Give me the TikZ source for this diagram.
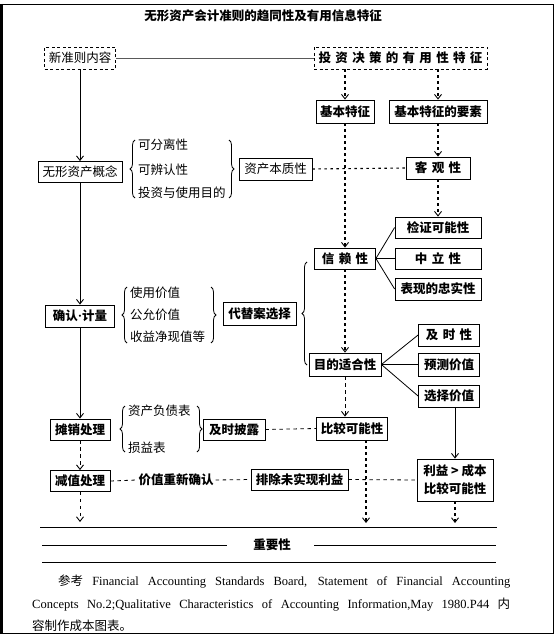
\documentclass[tikz,border=0pt]{standalone}
\usepackage{fontspec}
\setmainfont{Liberation Serif}
\newfontfamily\cjk{Noto Sans CJK SC}
\usetikzlibrary{arrows.meta,decorations.pathreplacing,calc}
\newcommand\gp{\hspace{4.3pt}}
\begin{document}
\begin{tikzpicture}[x=1pt,y=-1pt,
  bx/.style={draw,line width=0.8pt,inner sep=0pt,minimum height=22pt,font=\cjk\fontsize{12.5}{14}\selectfont},
  bxb/.style={bx,font=\cjk\bfseries\fontsize{12.5}{14}\selectfont},
  dbx/.style={bx,dash pattern=on 3pt off 2.5pt},
  txt/.style={inner sep=0pt,anchor=west,font=\cjk\fontsize{12.5}{14}\selectfont},
  arr/.style={-{Straight Barb[length=4.5pt,width=7pt,line width=0.9pt]}},
  dotl/.style={line width=1.1pt,dash pattern=on 2.5pt off 3.5pt},
  dshl/.style={line width=0.8pt,dash pattern=on 3.5pt off 3.5pt},
  sol/.style={line width=0.8pt},
  brc/.style={decorate,decoration={brace,amplitude=5pt},line width=0.8pt},
]
\useasboundingbox (0,0) rectangle (556,636);
% frame
\draw[line width=0.8pt] (1.5,4) rectangle (553,633.5);
\draw[line width=3pt] (1.5,4) -- (1.5,633.5);
% title
\node[font=\cjk\bfseries\fontsize{12.5}{14}\selectfont] (title) at (263,16) {无形资产会计准则的趋同性及有用信息特征};
% top boxes
\node[dbx,minimum width=71pt] (new) at (80,58) {新准则内容};
\node[dbx,font=\cjk\bfseries\fontsize{12.5}{14}\selectfont,minimum width=173pt] (inv) at (400.5,58) {投\gp 资\gp 决\gp 策\gp 的\gp 有\gp 用\gp 性\gp 特\gp 征};
\node[bxb,minimum width=58pt,minimum height=23pt] (jb) at (345,111.5) {基本特征};
\node[bxb,minimum width=98pt,minimum height=23pt] (jby) at (438,111.5) {基本特征的要素};
% row 1
\node[bx,minimum width=84pt,minimum height=21pt] (wx) at (80,172) {无形资产概念};
\node[txt] (i1) at (138,145) {可分离性};
\node[txt] (i2) at (138,170) {可辨认性};
\node[txt] (i3) at (138,193) {投资与使用目的};
\draw[brc] (135,198) -- (135,140);
\draw[brc] (229,140) -- (229,198);
\node[bx,minimum width=73pt] (zc) at (275.5,169) {资产本质性};
\node[bxb,minimum width=64pt] (kgx) at (438,168) {客\gp 观\gp 性};
% reliability
\node[bxb,minimum width=86pt,minimum height=21pt] (jz) at (438,227.5) {检证可能性};
\node[bxb,minimum width=61pt,minimum height=21pt] (xl) at (345,258.5) {信\gp 赖\gp 性};
\node[bxb,minimum width=86pt,minimum height=21pt] (zl) at (438,258.5) {中\gp 立\gp 性};
\node[bxb,minimum width=86pt] (bxz) at (438,289) {表现的忠实性};
% row 2
\node[bxb,minimum width=69pt] (qr) at (80,316) {确认{\rmfamily\bfseries\fontsize{13}{14}\selectfont ·}计量};
\node[txt] (u1) at (130,293) {使用价值};
\node[txt] (u2) at (130,315) {公允价值};
\node[txt] (u3) at (130,337) {收益净现值等};
\draw[brc] (127,343) -- (127,287);
\draw[brc] (211,287) -- (211,343);
\node[bxb,minimum width=73pt,minimum height=23pt] (dt) at (259.5,313.5) {代替案选择};
\draw[brc] (307,365) -- (307,262);
% relevance
\node[bxb,minimum width=72pt,minimum height=23pt] (md) at (345,364.5) {目的适合性};
\node[bxb,minimum width=61pt] (js) at (449,335) {及\gp 时\gp 性};
\node[bxb,minimum width=61pt,minimum height=23pt] (yc) at (449,364.5) {预测价值};
\node[bxb,minimum width=61pt] (xz) at (449,396) {选择价值};
% row 3
\node[bxb,minimum width=60pt,minimum height=21pt] (tx) at (80,429.5) {摊销处理};
\node[txt] (s1) at (128,411) {资产负债表};
\node[txt] (s2) at (128,448) {损益表};
\draw[brc] (125,452) -- (125,406);
\draw[brc] (197,406) -- (197,452);
\node[bxb,minimum width=62pt,minimum height=21pt] (jp) at (234,429.5) {及时披露};
\node[bxb,minimum width=71pt,minimum height=23pt] (bj) at (352,428.5) {比较可能性};
% row 4
\node[bxb,minimum width=60pt,minimum height=21pt] (jzcl) at (80,481) {减值处理};
\node[txt,anchor=center,font=\cjk\bfseries\fontsize{12.5}{14}\selectfont,inner xsep=2pt] (jc) at (176,480) {价值重新确认};
\node[bxb,minimum width=97pt,minimum height=21pt] (pc) at (299.5,479.5) {排除未实现利益};
\node[bxb,minimum width=76pt,minimum height=42pt,align=center] (lc) at (455,480) {利益 > 成本\\[4pt]比较可能性};
% connectors
\draw[line width=0.6pt,black!65] (new) -- (inv);
\draw[dotl,arr] (inv.south -| jb.north) -- (jb.north);
\draw[dotl,arr] (inv.south -| jby.north) -- (jby.north);
\draw[dotl,arr] (jb.south) -- (xl.north);
\draw[dotl,arr] (jby.south) -- (kgx.north);
\draw[dotl,arr] (kgx.south) -- (jz.north);
\draw[dotl] (zc.east) -- (kgx.west);
\draw[sol] (xl.east) -- (jz.west);
\draw[sol] (xl.east) -- (zl.west);
\draw[sol] (xl.east) -- (bxz.west);
\draw[dotl,arr] (xl.south) -- (md.north);
\draw[sol] (md.east) -- (js.west);
\draw[sol] (md.east) -- (yc.west);
\draw[sol] (md.east) -- (xz.west);
\draw[dshl,arr] (md.south) -- (md.south |- bj.north);
\draw[sol,arr] (xz.south -| lc.north) -- (lc.north);
\draw[dshl] (jp.east) -- (bj.west);
\draw[sol,line width=0.9pt,arr] (new) -- (wx);
\draw[sol,line width=0.9pt,arr] (wx) -- (qr);
\draw[sol,line width=0.9pt,arr] (qr) -- (tx);
\draw[dshl,arr] (tx) -- (jzcl);
\coordinate (e1) at (80,522);
\coordinate (e2) at (366,523);
\coordinate (e3) at (455,523);
\draw[dshl,arr] (jzcl) -- (e1);
\draw[dotl,arr] (bj.south -| e2) -- (e2);
\draw[dotl,arr] (lc.south) -- (e3);
\draw[dshl] (jzcl.east) -- (jc.west);
\draw[dshl] (jc.east) -- (pc.west);
\draw[dshl] (pc.east) -- (lc.west);
% importance lines
\node[font=\cjk\bfseries\fontsize{12.5}{14}\selectfont] (imp) at (272,545) {重要性};
\draw[line width=0.8pt] (40,527) -- (497,527);
\draw[line width=0.8pt] (42,545) -- (227,545);
\draw[line width=0.8pt] (314,545) -- (496,545);
\draw[line width=0.8pt] (42,562) -- (496,562);
% footer
\node[anchor=north west,inner sep=0pt,text width=478pt,align=justify,font=\fontsize{12.5}{22.5}\selectfont] (ref) at (32,575) {\hspace*{26pt}{\cjk 参考} Financial Accounting Standards Board, Statement of Financial Accounting\linebreak Concepts No.2;Qualitative Characteristics of Accounting Information,May 1980.P44 {\cjk 内}\linebreak{\cjk 容制作成本图表。}};
\end{tikzpicture}
\end{document}
